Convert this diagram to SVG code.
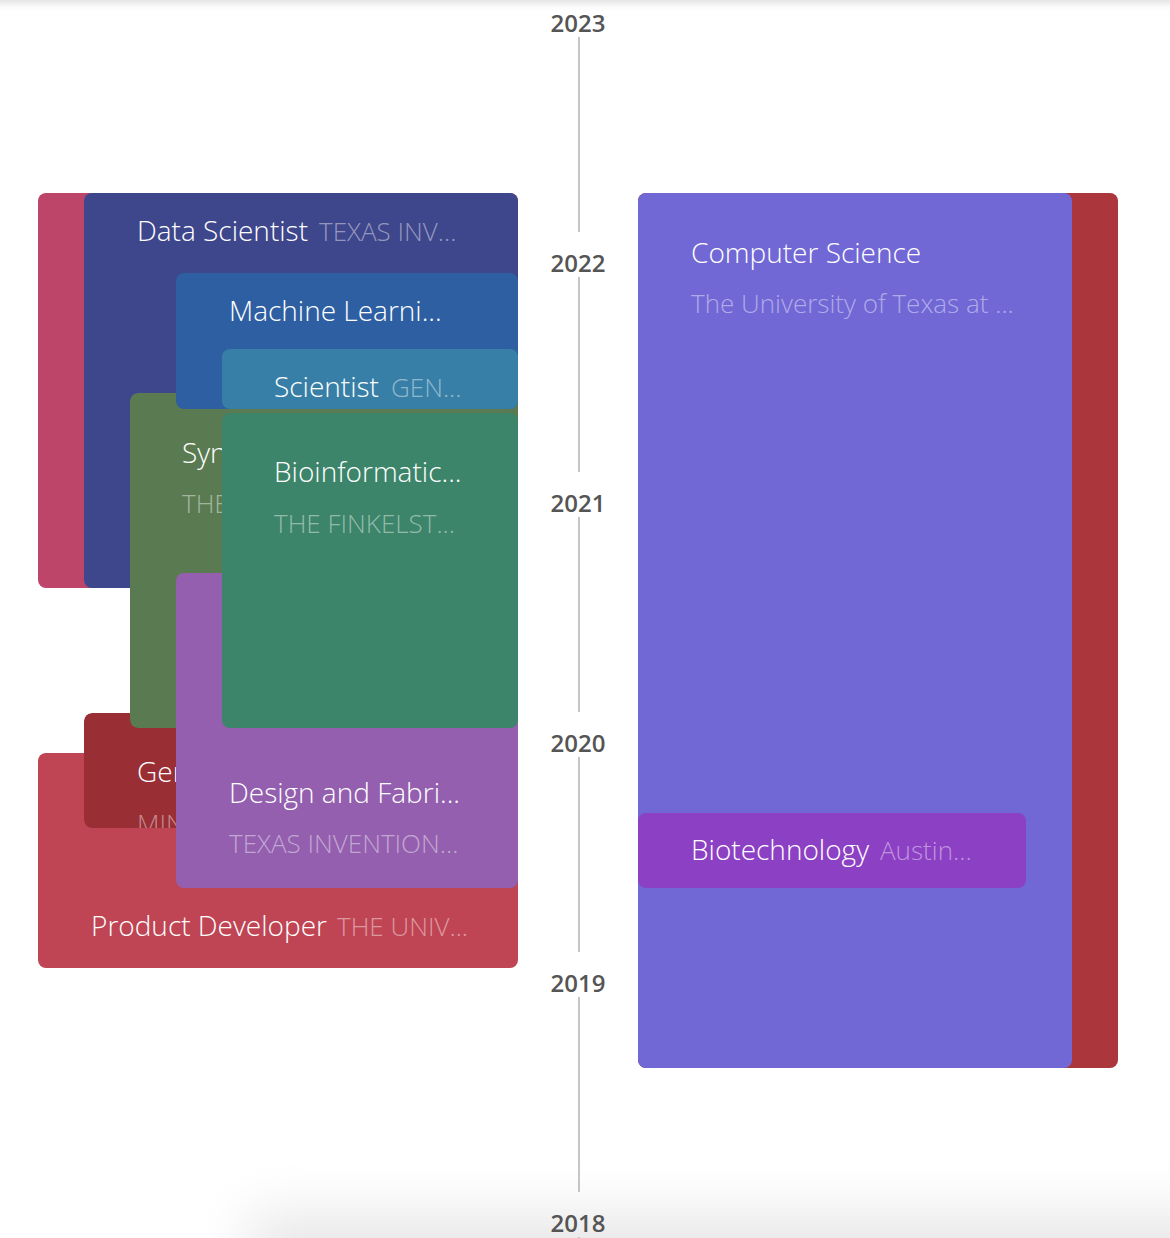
<svg xmlns="http://www.w3.org/2000/svg" width="1170" height="1238" viewBox="0 0 1170 1238">
<defs>
<style>
.t{font-family:"Open Sans","Noto Sans","Liberation Sans",sans-serif;font-weight:300;font-size:28px;fill:#ffffff}
.s{fill-opacity:0.45;font-size:26px}
.y{font-family:"Open Sans","Noto Sans","Liberation Sans",sans-serif;font-weight:600;font-size:24px;fill:#555555;text-anchor:middle}
.ax{stroke:#b3b3b3;stroke-width:1.5;fill:none}
</style>
<filter id="blurB" x="-50%" y="-100%" width="200%" height="300%"><feGaussianBlur stdDeviation="28"/></filter>
<filter id="blurT" x="-10%" y="-100%" width="120%" height="400%"><feGaussianBlur stdDeviation="5"/></filter>
<clipPath id="cGen"><rect x="84" y="713" width="434" height="115" rx="8"/></clipPath>
<clipPath id="cSyn"><rect x="130" y="393" width="388" height="335" rx="8"/></clipPath>
</defs>
<rect width="1170" height="1238" fill="#ffffff"/>
<rect x="-20" y="-30" width="1210" height="32" fill="#d8d8d8" filter="url(#blurT)"/>
<rect x="250" y="1215" width="1000" height="120" fill="#e6e6e6" filter="url(#blurB)"/>

<g id="axis">
<g id="connectors">
<line class="ax" x1="579" y1="37" x2="579" y2="232"/>
<line class="ax" x1="579" y1="277" x2="579" y2="472"/>
<line class="ax" x1="579" y1="517" x2="579" y2="712"/>
<line class="ax" x1="579" y1="757" x2="579" y2="952"/>
<line class="ax" x1="579" y1="997" x2="579" y2="1192"/>
<line class="ax" x1="579" y1="1237" x2="579" y2="1240"/>
</g>
<text class="y" x="578" y="32">2023</text>
<text class="y" x="578" y="272">2022</text>
<text class="y" x="578" y="512">2021</text>
<text class="y" x="578" y="752">2020</text>
<text class="y" x="578" y="992">2019</text>
<text class="y" x="578" y="1232">2018</text>
</g>

<g id="pink-item"><rect x="38" y="193" width="480" height="395" rx="8" fill="#bd456a"/></g>
<g id="data-scientist">
<rect x="84" y="193" width="434" height="395" rx="8" fill="#3e468c"/>
<text class="t" x="137" y="241">Data Scientist</text>
<text class="t s" x="319" y="241">TEXAS INV...</text>
</g>
<g id="product-developer">
<rect x="38" y="753" width="480" height="215" rx="8" fill="#bf4554"/>
<text class="t" x="91" y="936">Product Developer</text>
<text class="t s" x="337" y="936">THE UNIV...</text>
</g>
<g id="gen-item" clip-path="url(#cGen)">
<rect x="84" y="713" width="434" height="115" rx="8" fill="#992e34"/>
<text class="t" x="137" y="782">Gen</text>
<text class="t s" x="137" y="833">MIN</text>
</g>
<g id="syn-item" clip-path="url(#cSyn)">
<rect x="130" y="393" width="388" height="335" rx="8" fill="#5a7b51"/>
<text class="t" x="182" y="463">Syn</text>
<text class="t s" x="182" y="513">THE</text>
</g>
<g id="machine-learning">
<rect x="176" y="273" width="342" height="136" rx="8" fill="#2e5fa3"/>
<text class="t" x="229" y="321">Machine Learni...</text>
</g>
<g id="scientist">
<rect x="222" y="349" width="296" height="60" rx="8" fill="#377fa6"/>
<text class="t" x="274" y="397">Scientist</text>
<text class="t s" x="391" y="397">GEN...</text>
</g>
<g id="design-fabrication">
<rect x="176" y="573" width="342" height="315" rx="8" fill="#935fae"/>
<text class="t" x="229" y="803">Design and Fabri...</text>
<text class="t s" x="229" y="853">TEXAS INVENTION...</text>
</g>
<g id="bioinformatics">
<rect x="222" y="413" width="296" height="315" rx="8" fill="#3c856a"/>
<text class="t" x="274" y="482">Bioinformatic...</text>
<text class="t s" x="274" y="533">THE FINKELST...</text>
</g>

<g id="red-item"><rect x="638" y="193" width="480" height="875" rx="8" fill="#ab363c"/></g>
<g id="computer-science">
<rect x="638" y="193" width="434" height="875" rx="8" fill="#7168d6"/>
<text class="t" x="691" y="263">Computer Science</text>
<text class="t s" x="691" y="313">The University of Texas at ...</text>
</g>
<g id="biotechnology">
<rect x="638" y="813" width="388" height="75" rx="8" fill="#8c40c4"/>
<text class="t" x="691" y="860">Biotechnology</text>
<text class="t s" x="880" y="860">Austin...</text>
</g>
</svg>
